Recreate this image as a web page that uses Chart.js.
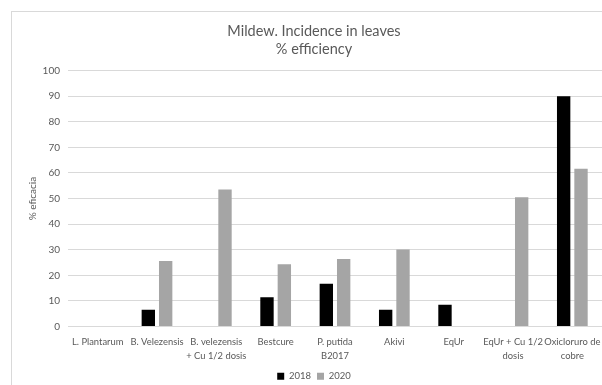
<!DOCTYPE html>
<html>
<head>
<meta charset="utf-8">
<script src="https://cdn.jsdelivr.net/npm/chart.js@4/dist/chart.umd.min.js"></script>
<style>
  html, body { margin: 0; padding: 0; background: #fff; }
  #wrap { width: 602px; height: 385px; }
</style>
</head>
<body>
<div id="wrap"><canvas id="c" width="602" height="385"></canvas></div>
<script>
// Treatments (x axis)
const categories = [
  "L. Plantarum",
  "B. Velezensis",
  ["B. velezensis", "+ Cu 1/2 dosis"],
  "Bestcure",
  ["P. putida", "B2017"],
  "Akivi",
  "EqUr",
  ["EqUr + Cu 1/2", "dosis"],
  ["Oxicloruro de", "cobre"]
];

// % efficacy per season
const values2018 = [null, 6.5, null, 11.4, 16.7, 6.5, 8.5, null, 90];
const values2020 = [null, 25.6, 53.5, 24.3, 26.4, 30.1, null, 50.5, 61.6];

const seriesNames = ["2018", "2020"];
const yTicks = [0, 10, 20, 30, 40, 50, 60, 70, 80, 90, 100];

const FONT = "Lato, 'Open Sans', sans-serif";
const TEXT = "#595959";
const GRID = "#D9D9D9";

// light frame around the whole chart; title and legend centred on that frame
const framePlugin = {
  id: "frame",
  afterLayout(chart) {
    if (chart.titleBlock) { chart.titleBlock.left = 26; chart.titleBlock.right = 602; }
    if (chart.legend) { chart.legend.left = 26; chart.legend.right = 602; }
  },
  beforeDraw(chart) {
    const ctx = chart.ctx;
    ctx.save();
    ctx.fillStyle = "#ffffff";
    ctx.fillRect(0, 0, chart.width, chart.height);
    ctx.strokeStyle = GRID;
    ctx.lineWidth = 1;
    ctx.strokeRect(11.5, 11.5, chart.width + 20, chart.height + 20);
    ctx.restore();
  }
};

new Chart(document.getElementById("c"), {
  type: "bar",
  data: {
    labels: categories,
    datasets: [
      {
        label: seriesNames[0],
        data: values2018,
        backgroundColor: "#000000",
        categoryPercentage: 0.585,
        barPercentage: 0.77
      },
      {
        label: seriesNames[1],
        data: values2020,
        backgroundColor: "#A5A5A5",
        categoryPercentage: 0.585,
        barPercentage: 0.77
      }
    ]
  },
  options: {
    responsive: false,
    animation: false,
    devicePixelRatio: 1,
    layout: { padding: { left: 0, right: 0, top: 22, bottom: -6 } },
    plugins: {
      title: {
        display: true,
        text: ["Mildew. Incidence in leaves", "% efficiency"],
        color: TEXT,
        font: { family: FONT, size: 14.5, weight: "normal", lineHeight: 1.26 },
        padding: { top: 0, bottom: 12 }
      },
      legend: {
        position: "bottom",
        labels: {
          color: TEXT,
          font: { family: FONT, size: 9.5 },
          boxWidth: 7,
          boxHeight: 7,
          padding: 6
        }
      },
      tooltip: { enabled: false }
    },
    scales: {
      x: {
        grid: { display: false, drawTicks: false },
        border: { display: true, color: GRID, width: 1 },
        ticks: {
          color: TEXT,
          font: { family: FONT, size: 9.4, lineHeight: 1.5 },
          maxRotation: 0,
          minRotation: 0,
          autoSkip: false,
          padding: 8
        },
        afterFit(scale) {
          scale.height = 39;
          scale.paddingLeft = 0;
          scale.paddingRight = 0;
        }
      },
      y: {
        min: 0,
        max: 100,
        afterBuildTicks(scale) { scale.ticks = yTicks.map(v => ({ value: v })); },
        grid: { color: GRID, lineWidth: 1, drawTicks: false },
        border: { display: false },
        ticks: {
          color: TEXT,
          font: { family: FONT, size: 10 },
          padding: 8
        },
        title: {
          display: true,
          text: "% eficacia",
          color: TEXT,
          font: { family: FONT, size: 10 },
          padding: { top: 27, bottom: 0 }
        },
        afterFit(scale) { scale.width = 68; }
      }
    }
  },
  plugins: [framePlugin]
});
</script>
</body>
</html>
